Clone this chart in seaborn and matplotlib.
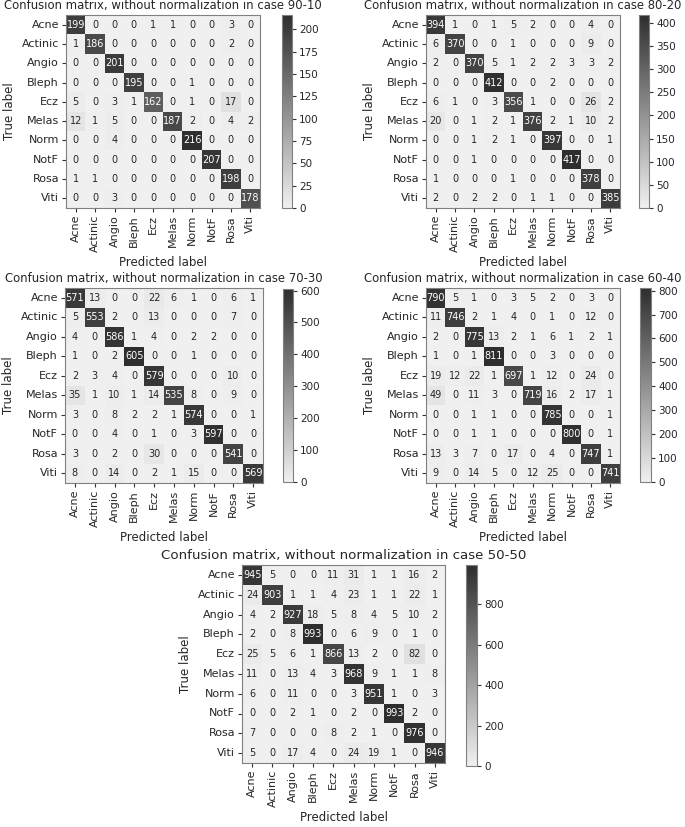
import numpy as np
import matplotlib
matplotlib.use("Agg")
import matplotlib.pyplot as plt
import seaborn as sns

sns.set_style("white")
plt.rcParams["font.family"] = ["DejaVu Sans"]

LABELS = ["Acne", "Actinic", "Angio", "Bleph", "Ecz", "Melas", "Norm", "NotF", "Rosa", "Viti"]

CASES = ["90-10", "80-20", "70-30", "60-40", "50-50"]

cm_90_10 = [
    [199, 0, 0, 0, 1, 1, 0, 0, 3, 0],
    [1, 186, 0, 0, 0, 0, 0, 0, 2, 0],
    [0, 0, 201, 0, 0, 0, 0, 0, 0, 0],
    [0, 0, 0, 195, 0, 0, 1, 0, 0, 0],
    [5, 0, 3, 1, 162, 0, 1, 0, 17, 0],
    [12, 1, 5, 0, 0, 187, 2, 0, 4, 2],
    [0, 0, 4, 0, 0, 0, 216, 0, 0, 0],
    [0, 0, 0, 0, 0, 0, 0, 207, 0, 0],
    [1, 1, 0, 0, 0, 0, 0, 0, 198, 0],
    [0, 0, 3, 0, 0, 0, 0, 0, 0, 178],
]

cm_80_20 = [
    [394, 1, 0, 1, 5, 2, 0, 0, 4, 0],
    [6, 370, 0, 0, 1, 0, 0, 0, 9, 0],
    [2, 0, 370, 5, 1, 2, 2, 3, 3, 2],
    [0, 0, 0, 412, 0, 0, 2, 0, 0, 0],
    [6, 1, 0, 3, 356, 1, 0, 0, 26, 2],
    [20, 0, 1, 2, 1, 376, 2, 1, 10, 2],
    [0, 0, 1, 2, 1, 0, 397, 0, 0, 1],
    [0, 0, 1, 0, 0, 0, 0, 417, 0, 0],
    [1, 0, 0, 0, 1, 0, 0, 0, 378, 0],
    [2, 0, 2, 2, 0, 1, 1, 0, 0, 385],
]

cm_70_30 = [
    [571, 13, 0, 0, 22, 6, 1, 0, 6, 1],
    [5, 553, 2, 0, 13, 0, 0, 0, 7, 0],
    [4, 0, 586, 1, 4, 0, 2, 2, 0, 0],
    [1, 0, 2, 605, 0, 0, 1, 0, 0, 0],
    [2, 3, 4, 0, 579, 0, 0, 0, 10, 0],
    [35, 1, 10, 1, 14, 535, 8, 0, 9, 0],
    [3, 0, 8, 2, 2, 1, 574, 0, 0, 1],
    [0, 0, 4, 0, 1, 0, 3, 597, 0, 0],
    [3, 0, 2, 0, 30, 0, 0, 0, 541, 0],
    [8, 0, 14, 0, 2, 1, 15, 0, 0, 569],
]

cm_60_40 = [
    [790, 5, 1, 0, 3, 5, 2, 0, 3, 0],
    [11, 746, 2, 1, 4, 0, 1, 0, 12, 0],
    [2, 0, 775, 13, 2, 1, 6, 1, 2, 1],
    [1, 0, 1, 811, 0, 0, 3, 0, 0, 0],
    [19, 12, 22, 1, 697, 1, 12, 0, 24, 0],
    [49, 0, 11, 3, 0, 719, 16, 2, 17, 1],
    [0, 0, 1, 1, 0, 0, 785, 0, 0, 1],
    [0, 0, 1, 1, 0, 0, 0, 800, 0, 1],
    [13, 3, 7, 0, 17, 0, 4, 0, 747, 1],
    [9, 0, 14, 5, 0, 12, 25, 0, 0, 741],
]

cm_50_50 = [
    [945, 5, 0, 0, 11, 31, 1, 1, 16, 2],
    [24, 903, 1, 1, 4, 23, 1, 1, 22, 1],
    [4, 2, 927, 18, 5, 8, 4, 5, 10, 2],
    [2, 0, 8, 993, 0, 6, 9, 0, 1, 0],
    [25, 5, 6, 1, 866, 13, 2, 0, 82, 0],
    [11, 0, 13, 4, 3, 968, 9, 1, 1, 8],
    [6, 0, 11, 0, 0, 3, 951, 1, 0, 3],
    [0, 0, 2, 1, 0, 2, 0, 993, 2, 0],
    [7, 0, 0, 0, 8, 2, 1, 0, 976, 0],
    [5, 0, 17, 4, 0, 24, 19, 1, 0, 946],
]

MATRICES = [cm_90_10, cm_80_20, cm_70_30, cm_60_40, cm_50_50]
CBAR_STEPS = [25, 50, 100, 100, 200]

W, H = 685, 827
# pixel boxes: (left, top, right, bottom) for heatmap and colorbar
HEAT_BOX = [(66, 15, 260, 208), (426, 15, 620, 208),
            (65, 288, 263, 483), (426, 288, 620, 483),
            (242, 565, 445, 763)]
CBAR_BOX = [(282, 15, 292, 208), (639, 15, 649, 208),
            (283, 289, 293, 482), (640, 288, 651, 482),
            (466, 565, 477, 766)]
TITLE_SIZE = [8.4, 8.4, 8.4, 8.4, 9.6]

cmap = sns.blend_palette(["#f0f0f0", "#2e2e2e"], as_cmap=True)


def box(b):
    l, t, r, bt = b
    return [l / W, 1 - bt / H, (r - l) / W, (bt - t) / H]


fig = plt.figure(figsize=(W / 100, H / 100), dpi=100)

for i, (case, cm) in enumerate(zip(CASES, MATRICES)):
    cm = np.array(cm)
    ax = fig.add_axes(box(HEAT_BOX[i]))
    cax = fig.add_axes(box(CBAR_BOX[i]))
    sns.heatmap(
        cm, ax=ax, cbar_ax=cax,
        cmap=cmap, vmin=0, vmax=cm.max(),
        annot=True, fmt="d",
        annot_kws={"fontsize": 7},
        xticklabels=LABELS, yticklabels=LABELS,
    )
    for s in ax.spines.values():
        s.set_visible(True)
        s.set_color("#808080")
        s.set_linewidth(0.8)
    ax.tick_params(axis="both", which="major", length=3, width=0.8,
                   color="#333333", labelsize=8, left=True, bottom=True,
                   pad=2)
    ax.set_xticklabels(LABELS, rotation=90)
    ax.set_yticklabels(LABELS, rotation=0)
    ax.set_xlabel("Predicted label", fontsize=8.5, labelpad=3)
    ax.set_ylabel("True label", fontsize=8.5)
    ax.set_title(f"Confusion matrix, without normalization in case {case}",
                 fontsize=TITLE_SIZE[i], pad=4)

    step = CBAR_STEPS[i]
    cbar = ax.collections[0].colorbar
    cbar.set_ticks(np.arange(0, cm.max() + 1, step))
    cbar.outline.set_visible(True)
    cbar.outline.set_edgecolor("#808080")
    cbar.outline.set_linewidth(0.8)
    cax.tick_params(labelsize=7.5, length=3, width=0.8, color="#333333",
                    right=True, pad=2)

fig.savefig("out.png", dpi=100)
